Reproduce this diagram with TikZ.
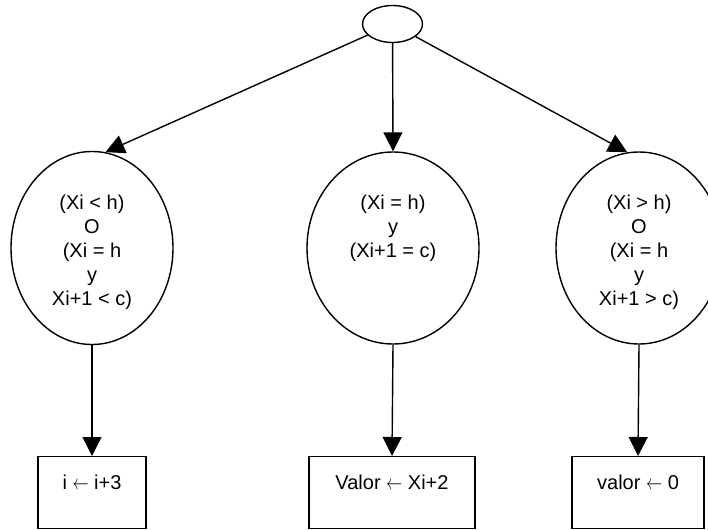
\documentclass[tikz,border=0pt]{standalone}
\usepackage{fontspec}
\setmainfont{Liberation Sans}
\usetikzlibrary{shapes.geometric,arrows.meta}
% thin assignment arrow
\newcommand{\assignarrow}{\scalebox{0.78}[1]{$\leftarrow$}}
\begin{document}
\begin{tikzpicture}[x=1pt,y=-1pt,
  every node/.style={font=\fontsize{20}{24}\selectfont},
  cond/.style={draw, ellipse, line width=1.4pt, inner sep=0pt},
  condtext/.style={align=center, inner sep=0pt, anchor=north},
  result/.style={draw, rectangle, line width=1.4pt, inner sep=0pt,
    text height=33pt, text depth=39pt, anchor=north},
  link/.style={line width=1.4pt, -{Triangle[length=19pt,width=19pt]}}]
\useasboundingbox (0,0) rectangle (708,529);
\clip (0,0) rectangle (708,529);

% start node and the three condition ellipses
\node[cond, minimum width=60pt, minimum height=37pt] (root) at (392.5,24) {};
\node[cond, minimum width=162pt, minimum height=193pt] (lt) at (92,248) {};
\node[cond, minimum width=172pt, minimum height=192pt] (eq) at (393,248) {};
\node[cond, minimum width=166pt, minimum height=192pt] (gt) at (639,248) {};

% condition texts
\node[condtext] (lttext) at (92,195) {(Xi < h)\\O\\(Xi = h\\y\\Xi+1 < c)};
\node[condtext] (eqtext) at (393,195) {(Xi = h)\\y\\(Xi+1 = c)};
\node[condtext] (gttext) at (639,195) {(Xi > h)\\O\\(Xi = h\\y\\Xi+1 > c)};

% resulting assignments
\node[result, minimum width=108pt] (ltbox) at (92,456) {i \assignarrow{} i+3};
\node[result, minimum width=166pt] (eqbox) at (392,456) {Valor \assignarrow{} Xi+2};
\node[result, minimum width=132pt] (gtbox) at (638,456) {valor \assignarrow{} 0};

% connectors
\draw[link] (root) -- (lt.82);
\draw[link] (root) -- (eq.north);
\draw[link] (root) -- (gt.97);
\draw[link] (lt.south) -- (ltbox.north);
\draw[link] (eq.south) -- (eqbox.north);
\draw[link] (gt.south) -- (gtbox.north);
\end{tikzpicture}
\end{document}
